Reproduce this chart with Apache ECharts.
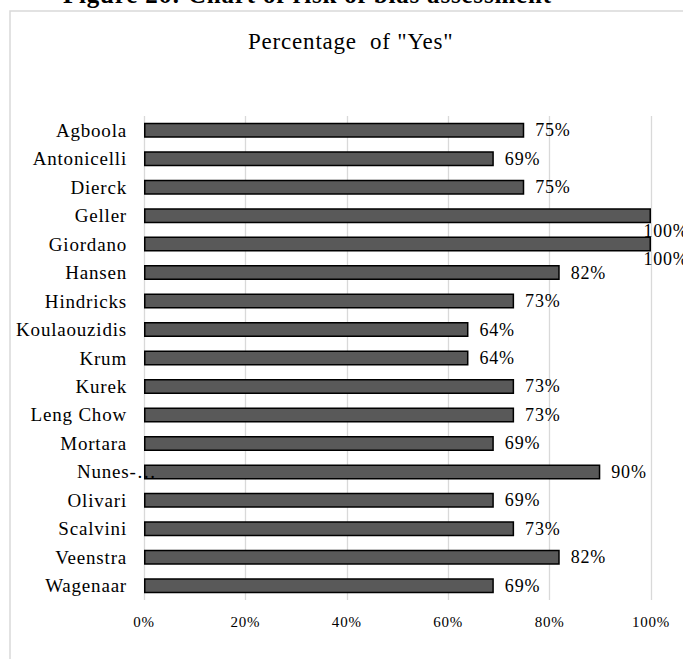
<!DOCTYPE html>
<html>
<head>
<meta charset="utf-8">
<script src="https://cdn.jsdelivr.net/npm/echarts@6/dist/echarts.min.js"></script>
<style>
  html, body { margin: 0; padding: 0; background: #fff; }
  #chart { width: 683px; height: 659px; letter-spacing: 0.8px; }
</style>
</head>
<body>
<div id="chart"></div>
<script>
// Studies assessed and the share of "Yes" answers for each (percent)
const studies = [
  'Agboola', 'Antonicelli', 'Dierck', 'Geller', 'Giordano', 'Hansen',
  'Hindricks', 'Koulaouzidis', 'Krum', 'Kurek', 'Leng Chow', 'Mortara',
  'Nunes-…', 'Olivari', 'Scalvini', 'Veenstra', 'Wagenaar'
];
const yesPercent = [75, 69, 75, 100, 100, 82, 73, 64, 64, 73, 73, 69, 90, 69, 73, 82, 69];
const xTicks = [0, 20, 40, 60, 80, 100];

const serif = "'Liberation Serif', serif";

// Labels of full bars sit just under the bar end
const barData = yesPercent.map(v => {
  if (v >= 100) {
    return {
      value: v,
      label: { position: ['98.5%', '150%'], align: 'left', verticalAlign: 'middle' }
    };
  }
  return v;
});

const chart = echarts.init(document.getElementById('chart'), null, { renderer: 'svg' });

chart.setOption({
  animation: false,
  backgroundColor: '#fff',
  title: {
    text: 'Percentage  of "Yes"',
    left: 248,
    top: 30,
    padding: 0,
    textStyle: { fontFamily: serif, fontSize: 23, fontWeight: 'normal', color: '#000' }
  },
  graphic: [
    {
      type: 'rect',
      shape: { x: 10, y: 11, width: 700, height: 700 },
      style: { fill: 'none', stroke: '#d9d9d9', lineWidth: 1.5 },
      silent: true
    },
    {
      type: 'text',
      x: 63,
      y: 7,
      style: {
        text: 'Figure 26: Chart of risk of bias assessment',
        font: 'bold 25px ' + serif,
        fill: '#000',
        textVerticalAlign: 'bottom'
      },
      silent: true
    }
  ],
  grid: { left: 144, right: 32, top: 116, bottom: 59 },
  xAxis: {
    type: 'value',
    min: xTicks[0],
    max: xTicks[xTicks.length - 1],
    interval: xTicks[1] - xTicks[0],
    axisLine: { show: false },
    axisTick: { show: false },
    splitLine: { lineStyle: { color: '#d9d9d9', width: 1.3 } },
    axisLabel: {
      formatter: '{value}%',
      margin: 14,
      fontFamily: serif,
      fontSize: 15,
      color: '#000'
    }
  },
  yAxis: {
    type: 'category',
    data: studies,
    inverse: true,
    z: 3,
    axisLine: { show: false },
    axisTick: { show: false },
    axisLabel: {
      margin: 17,
      fontFamily: serif,
      fontSize: 19,
      color: '#000',
      formatter: function (name) {
        return name.indexOf('…') >= 0 ? '{cut|' + name + '}' : name;
      },
      rich: {
        cut: { width: 50, align: 'left', fontFamily: serif, fontSize: 19, color: '#000' }
      }
    }
  },
  series: [{
    type: 'bar',
    data: barData,
    barWidth: 15,
    itemStyle: { color: '#595959', borderColor: '#000', borderWidth: 1.5 },
    label: {
      show: true,
      position: 'right',
      distance: 11,
      formatter: '{c}%',
      fontFamily: serif,
      fontSize: 18,
      color: '#000'
    }
  }]
});
</script>
</body>
</html>
